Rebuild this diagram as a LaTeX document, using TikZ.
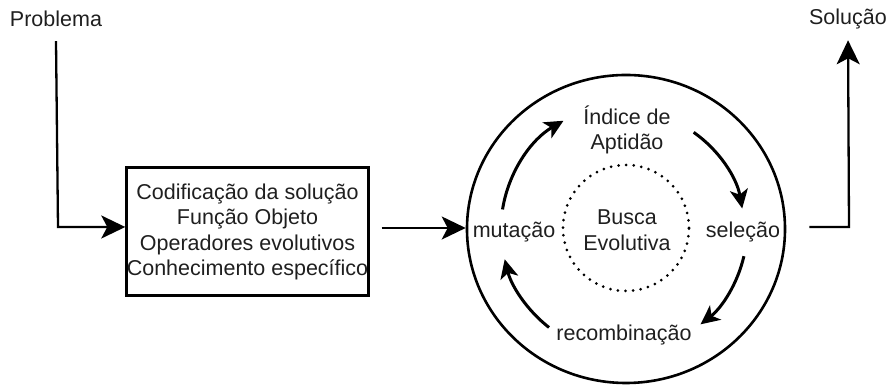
\documentclass[tikz,border=0pt]{standalone}
\usepackage{fontspec}
\setmainfont{Liberation Sans}
\usetikzlibrary{arrows.meta,shapes.geometric}
\begin{document}
\begin{tikzpicture}[x=1pt,y=1pt]
		\tikzstyle{texto}=[inner sep=0pt, font=\fontsize{21.5}{25.5}\selectfont, align=center, text=black!88]
		\tikzstyle{caixa}=[texto, draw, line width=3pt, minimum width=241, minimum height=128]
		\tikzstyle{seta}=[line width=2.3pt, -{Stealth[length=24pt,width=23pt,inset=6pt]}]
		\tikzstyle{seta_ciclo}=[line width=3pt, -{Stealth[length=19pt,width=18pt,inset=5pt]}]
		\useasboundingbox (0,0) rectangle (887,387);
		\node[texto] (prob) at (56,368) {Problema};
		\node[texto] (sol) at (848,368) {Solução};
		\node[caixa] (modelo) at (247.5,155) {Codificação da solução\\Função Objeto\\Operadores evolutivos\\Conhecimento específico};
		\node[ellipse, draw, line width=2.6pt, minimum width=318, minimum height=308] (ciclo) at (626,158) {};
		\draw[line width=3pt, line cap=round, dash pattern=on 0pt off 7.6pt] (626,159) circle[radius=63];
		\node[texto] (indice) at (627,257) {Índice de\\Aptidão}; % topo
		\node[texto] (busca) at (627,157) {Busca\\Evolutiva};
		\node[texto] (mutacao) at (514,155) {mutação}; % esquerda
		\node[texto] (selecao) at (743,155) {seleção}; % direita
		\node[texto] (recomb) at (624,52) {recombinação}; % baixo
		\coordinate (canto) at (58,160);
		\coordinate (saida) at (849,160);
		\draw[seta] ([yshift=-14pt]prob.south) -- (canto) -- ([yshift=5pt]modelo.west);
		\draw[seta, shorten <=12pt] ([yshift=4pt]modelo.east) -- ([yshift=1pt]ciclo.west);
		\draw[seta, shorten <=23pt, shorten >=11pt] ([yshift=2pt]ciclo.east) -- (saida) -- (sol.south);
		\draw[seta_ciclo] (626,158) ++(171:125) arc[start angle=171, end angle=120, radius=125];
		\draw[seta_ciclo] (626,158) ++(55:118) arc[start angle=55, end angle=10, radius=118];
		\draw[seta_ciclo] (626,158) ++(-13:121) arc[start angle=-13, end angle=-52, radius=121];
		\draw[seta_ciclo] (626,158) ++(232:125) arc[start angle=232, end angle=194, radius=125];
	\end{tikzpicture}
\end{document}
